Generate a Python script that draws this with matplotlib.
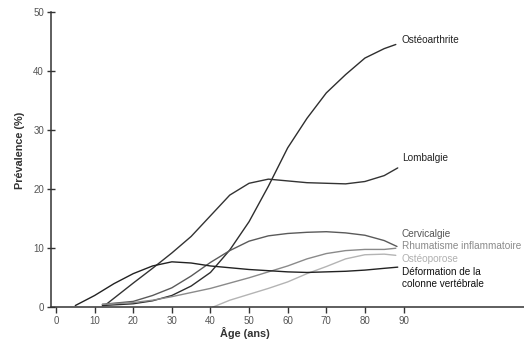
import matplotlib
matplotlib.use("Agg")
import matplotlib.pyplot as plt

plt.rcParams['font.family'] = ['Liberation Sans', 'DejaVu Sans']

# prevalence (%) by age, one list per condition
osteo_x = [12, 20, 25, 30, 35, 40, 45, 50, 55, 60, 65, 70, 75, 80, 85, 88]
osteo_y = [0.3, 0.6, 1.1, 2.0, 3.6, 5.9, 9.7, 14.5, 20.5, 27.0, 32.0, 36.3, 39.4, 42.2, 43.8, 44.5]

lomb_x = [13, 20, 25, 30, 35, 40, 45, 50, 55, 60, 65, 70, 75, 80, 85, 88.5]
lomb_y = [0.5, 4.1, 6.6, 9.2, 12.0, 15.5, 19.0, 21.0, 21.7, 21.4, 21.1, 21.0, 20.9, 21.3, 22.3, 23.6]

cerv_x = [12, 20, 25, 30, 35, 40, 45, 50, 55, 60, 65, 70, 75, 80, 85, 88.3]
cerv_y = [0.5, 1.0, 2.0, 3.3, 5.3, 7.6, 9.6, 11.2, 12.1, 12.5, 12.7, 12.8, 12.6, 12.2, 11.3, 10.3]

rhum_x = [12, 20, 25, 30, 35, 40, 45, 50, 55, 60, 65, 70, 75, 80, 85, 88]
rhum_y = [0.5, 0.8, 1.2, 1.8, 2.5, 3.2, 4.1, 5.0, 6.0, 7.0, 8.2, 9.1, 9.6, 9.8, 9.8, 10.0]

poro_x = [40.5, 45, 50, 55, 60, 65, 70, 75, 80, 85, 88]
poro_y = [0.0, 1.2, 2.2, 3.2, 4.3, 5.7, 6.9, 8.2, 8.9, 9.0, 8.8]

defo_x = [5, 10, 15, 20, 25, 30, 35, 40, 45, 50, 55, 60, 65, 70, 75, 80, 85, 88.5]
defo_y = [0.3, 2.0, 4.0, 5.7, 7.0, 7.7, 7.5, 7.0, 6.7, 6.4, 6.2, 6.0, 5.9, 6.0, 6.1, 6.3, 6.6, 6.8]

series = [
    (osteo_x, osteo_y, '#2e2e2e'),
    (lomb_x, lomb_y, '#333333'),
    (cerv_x, cerv_y, '#5a5a5a'),
    (rhum_x, rhum_y, '#8a8a8a'),
    (poro_x, poro_y, '#b4b4b4'),
    (defo_x, defo_y, '#222222'),
]

# end labels: text, y position, colour
labels = [
    ('Ostéoarthrite', 45.2, '#222222'),
    ('Lombalgie', 25.3, '#222222'),
    ('Cervicalgie', 12.4, '#555555'),
    ('Rhumatisme inflammatoire', 10.4, '#8a8a8a'),
    ('Ostéoporose', 8.2, '#b0b0b0'),
    ('Déformation de la\ncolonne vertébrale', 5.0, '#111111'),
]

fig = plt.figure(figsize=(5.24, 3.39), dpi=100)
ax = fig.add_axes([0.0973, 0.0935, 0.9027, 0.8711])

for x, y, c in series:
    ax.plot(x, y, color=c, lw=1.0, solid_capstyle='round', solid_joinstyle='round')

for txt, yy, c in labels:
    ax.text(89.6, yy, txt, color=c, fontsize=7.2, va='center', ha='left',
            linespacing=1.3)

ax.set_xlim(-1.3, 121.2)
ax.set_ylim(0, 50)
ax.set_xticks(range(0, 100, 10))
ax.set_yticks(range(0, 60, 10))

for s in ['top', 'right']:
    ax.spines[s].set_visible(False)
for s in ['left', 'bottom']:
    ax.spines[s].set_color('#333333')
    ax.spines[s].set_linewidth(1.1)
ax.spines['left'].set_bounds(0, 50)

ax.tick_params(axis='x', direction='out', length=4, width=1, color='#333333',
               labelsize=7, labelcolor='#555555', pad=2)
ax.tick_params(axis='y', direction='inout', length=6, width=1, color='#333333',
               labelsize=7, labelcolor='#555555', pad=2)

fig.text(245 / 524, 1 - 333 / 339, 'Âge (ans)', fontsize=7.8, fontweight='bold',
         ha='center', va='center', color='#333333')
fig.text(20 / 524, 1 - 150 / 339, 'Prévalence (%)', fontsize=7.8, fontweight='bold',
         ha='center', va='center', rotation=90, color='#333333')

fig.savefig('out.png', dpi=100)
